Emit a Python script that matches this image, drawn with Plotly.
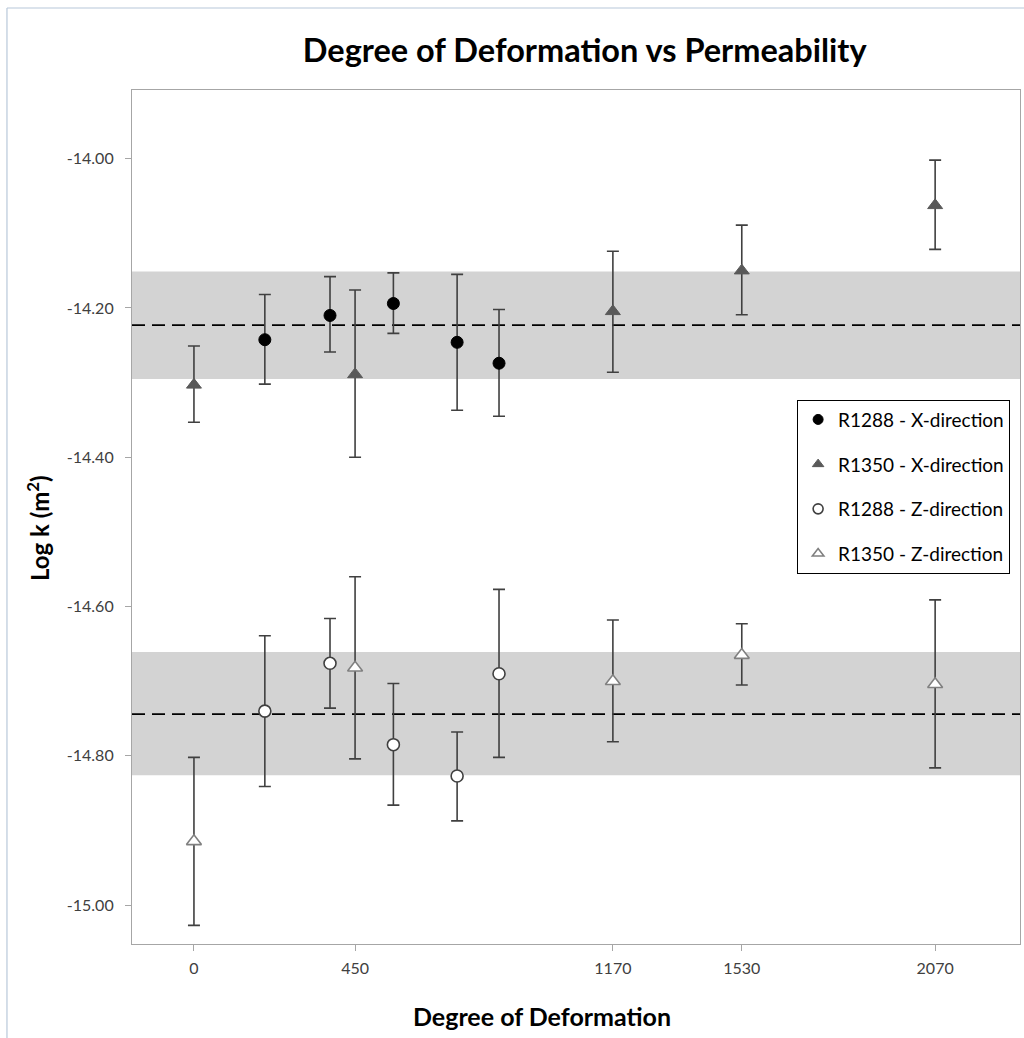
import plotly.graph_objects as go

# ---------------- data ----------------
x_r1288 = [198, 380, 557, 735, 852]
x_r1350 = [0, 450, 1170, 1530, 2070]

# R1288 X-direction (filled circles)
y_r1288x = [-14.2425, -14.210, -14.194, -14.246, -14.274]
hi_r1288x = [-14.182, -14.158, -14.153, -14.155, -14.202]
lo_r1288x = [-14.302, -14.259, -14.234, -14.337, -14.345]

# R1350 X-direction (filled triangles)
y_r1350x = [-14.303, -14.289, -14.2045, -14.150, -14.0625]
hi_r1350x = [-14.251, -14.176, -14.124, -14.089, -14.002]
lo_r1350x = [-14.353, -14.400, -14.286, -14.209, -14.1215]

# R1288 Z-direction (open circles)
y_r1288z = [-14.740, -14.676, -14.785, -14.827, -14.690]
hi_r1288z = [-14.639, -14.616, -14.703, -14.768, -14.577]
lo_r1288z = [-14.841, -14.736, -14.866, -14.887, -14.802]

# R1350 Z-direction (open triangles)
y_r1350z = [-14.9145, -14.682, -14.700, -14.665, -14.704]
hi_r1350z = [-14.802, -14.560, -14.618, -14.623, -14.591]
lo_r1350z = [-15.027, -14.804, -14.781, -14.705, -14.816]

# mean lines and bands
band_top = [-14.151, -14.661]
band_bottom = [-14.295, -14.826]
band_mean = [-14.223, -14.744]

x_tickvals = [0, 450, 1170, 1530, 2070]
x_ticktext = ["0", "450", "1170", "1530", "2070"]
y_tickvals = [-15.0, -14.8, -14.6, -14.4, -14.2, -14.0]
y_ticktext = ["-15.00", "-14.80", "-14.60", "-14.40", "-14.20", "-14.00"]

names = ["R1288 - X-direction", "R1350 - X-direction",
         "R1288 - Z-direction", "R1350 - Z-direction"]

FONT = "Lato, 'Open Sans', sans-serif"

fig = go.Figure()


def err(y, hi, lo):
    return dict(type="data", symmetric=False,
                array=[h - v for h, v in zip(hi, y)],
                arrayminus=[v - l for v, l in zip(y, lo)],
                color="#404040", thickness=1.6, width=6)


series = [
    (x_r1288, y_r1288x, hi_r1288x, lo_r1288x,
     dict(symbol="circle", size=12, color="#000000", line=dict(color="#000000", width=1))),
    (x_r1350, y_r1350x, hi_r1350x, lo_r1350x,
     dict(symbol="triangle-up", size=13, color="#595959", line=dict(color="#595959", width=1))),
    (x_r1288, y_r1288z, hi_r1288z, lo_r1288z,
     dict(symbol="circle", size=12, color="#ffffff", line=dict(color="#404040", width=1.6))),
    (x_r1350, y_r1350z, hi_r1350z, lo_r1350z,
     dict(symbol="triangle-up", size=13, color="#ffffff", line=dict(color="#808080", width=1.6))),
]

for (xs, ys, hi, lo, mk), nm in zip(series, names):
    fig.add_trace(go.Scatter(x=xs, y=ys, mode="markers", marker=mk,
                             error_y=err(ys, hi, lo), showlegend=False,
                             hoverinfo="skip"))

# legend-only traces
for (xs, ys, hi, lo, mk), nm in zip(series, names):
    lm = dict(mk)
    lm["size"] = 10
    fig.add_trace(go.Scatter(x=[None], y=[None], mode="markers", marker=lm,
                             name=nm, legendgroup=nm, showlegend=True))

shapes = []
for t, b, m in zip(band_top, band_bottom, band_mean):
    shapes.append(dict(type="rect", xref="paper", yref="y", x0=0, x1=1, y0=b, y1=t,
                       fillcolor="#d3d3d3", line=dict(width=0), layer="below"))
    shapes.append(dict(type="line", xref="paper", yref="y", x0=0, x1=1, y0=m, y1=m,
                       line=dict(color="#000000", width=1.6, dash="13px,7px"), layer="below"))

# outer chart-area border (left & top)
shapes.append(dict(type="line", xref="paper", yref="paper", x0=-0.1408, x1=-0.1408,
                   y0=-0.11, y1=1.096, line=dict(color="#b8c8da", width=1.2)))
shapes.append(dict(type="line", xref="paper", yref="paper", x0=-0.1408, x1=1.01,
                   y0=1.096, y1=1.096, line=dict(color="#b8c8da", width=1.2)))

fig.update_layout(
    width=1024, height=1038,
    margin=dict(l=132, r=4, t=90, b=94),
    paper_bgcolor="white", plot_bgcolor="white",
    font=dict(family=FONT, color="#404040", size=16),
    title=dict(text="<b>Degree of Deformation vs Permeability</b>",
               x=0.571, y=1 - 51 / 1038, xanchor="center", yanchor="middle",
               font=dict(family=FONT, size=32.5, color="#000000")),
    shapes=shapes,
    showlegend=True,
    legend=dict(x=0.749, y=0.6375, xanchor="left", yanchor="top",
                bgcolor="white", bordercolor="#000000", borderwidth=1,
                font=dict(family=FONT, size=19, color="#000000"),
                tracegroupgap=17, itemwidth=30),
    annotations=[
        dict(text="<b>Degree of Deformation</b>", xref="paper", yref="paper",
             x=0.4617, y=-0.0843, xanchor="center", yanchor="middle", showarrow=False,
             font=dict(family=FONT, size=25, color="#000000")),
        dict(text="<b>Log k (m<sup>2</sup>)</b>", xref="paper", yref="paper",
             x=-0.1059, y=0.487, xanchor="center", yanchor="middle", showarrow=False,
             textangle=-90, font=dict(family=FONT, size=24, color="#000000")),
    ],
)

fig.update_xaxes(range=[-173, 2307], tickmode="array", tickvals=x_tickvals,
                 ticktext=x_ticktext, showgrid=False, zeroline=False,
                 showline=True, linecolor="#a6a6a6", linewidth=1.2, mirror=True,
                 ticks="outside", ticklen=6, tickcolor="#a6a6a6",
                 ticklabelstandoff=4,
                 tickfont=dict(size=16, color="#404040"))
fig.update_yaxes(range=[-15.052, -13.908], tickmode="array", tickvals=y_tickvals,
                 ticktext=y_ticktext, showgrid=False, zeroline=False,
                 showline=True, linecolor="#a6a6a6", linewidth=1.2, mirror=True,
                 ticks="outside", ticklen=6, tickcolor="#a6a6a6",
                 ticklabelstandoff=8,
                 tickfont=dict(size=16, color="#404040"))

fig.write_html("out.html")
